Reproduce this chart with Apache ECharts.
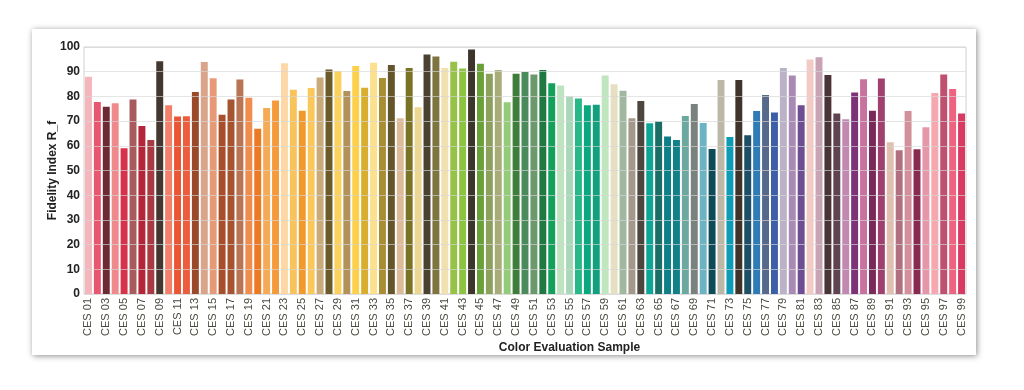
<!DOCTYPE html>
<html>
<head>
<meta charset="utf-8">
<script src="https://cdn.jsdelivr.net/npm/echarts@6/dist/echarts.min.js"></script>
<style>
  html, body { margin: 0; padding: 0; background: #ffffff; }
  #card { position: absolute; left: 32px; top: 29px; width: 944px; height: 326px; background: #fff;
          box-shadow: 1px 1px 6px rgba(0,0,0,0.45); }
  #chart { position: absolute; left: 0; top: 0; width: 1024px; height: 390px; }
</style>
</head>
<body>
<div id="card"></div>
<div id="chart"></div>
<script>
const categories = [];
for (let i = 1; i <= 99; i++) categories.push('CES ' + (i < 10 ? '0' + i : '' + i));

const fidelityValues = [
  88.0, 77.7, 75.8, 77.2, 59.0, 78.7, 68.0, 62.3, 94.2, 76.4,
  71.9, 72.0, 81.8, 93.9, 87.3, 72.6, 78.7, 86.8, 79.5, 66.9,
  75.3, 78.3, 93.4, 82.7, 74.2, 83.4, 87.7, 90.9, 90.3, 82.2,
  92.3, 83.5, 93.6, 87.4, 92.7, 71.2, 91.5, 75.6, 97.0, 96.2,
  91.5, 94.0, 91.3, 99.0, 93.2, 89.2, 90.7, 77.6, 89.2, 89.9,
  88.9, 90.7, 85.3, 84.4, 80.0, 79.1, 76.4, 76.6, 88.5, 84.9,
  82.3, 71.2, 78.1, 69.1, 69.8, 63.8, 62.3, 72.1, 76.9, 69.2,
  58.7, 86.6, 63.6, 86.6, 64.3, 74.1, 80.6, 73.5, 91.5, 88.5,
  76.4, 94.9, 95.8, 88.7, 73.1, 70.7, 81.6, 86.9, 74.2, 87.2,
  61.4, 58.2, 74.1, 58.6, 67.5, 81.4, 88.9, 83.0, 73.1
];

const sampleColors = [
  '#f4b6bb', '#e9566f', '#6b2b34', '#ee8a8c', '#d6334a', '#a95a5d', '#b5253a', '#a83a44', '#44372f', '#f2806a',
  '#ea5634', '#ec5d3d', '#9b4a29', '#d9a48a', '#e89a78', '#a84e2a', '#a6532f', '#b87453', '#f08c4d', '#ec7a25',
  '#f5aa55', '#f49a3a', '#fdd7a6', '#f9c35b', '#ef9a2a', '#fac85a', '#c8ab78', '#6b5a2a', '#fad15a', '#b3925a',
  '#fcd04a', '#d9ad2e', '#fde08e', '#a88d32', '#65552a', '#dcbc98', '#7a7225', '#ecd690', '#4a4130', '#7d7440',
  '#f1e0b0', '#96c247', '#8cc43f', '#3d342c', '#6aa038', '#8ca25c', '#a8ac78', '#92cc7a', '#3f7d3a', '#4a8a5c',
  '#6a9a6c', '#1f7a42', '#13a05a', '#bde3c0', '#a8d8b8', '#28b888', '#0aa87e', '#13a07d', '#c0e6c0', '#e6dfc2',
  '#9fb89e', '#a3998b', '#4d463f', '#0fa595', '#1a6e66', '#0d7f86', '#118188', '#6aa8a0', '#7a827e', '#6ab4c4',
  '#0d4a5a', '#bcb8a8', '#0d9cb8', '#3f342c', '#1d4f66', '#2e7bb5', '#56698a', '#3d5ea8', '#bbb2c8', '#a98ab5',
  '#6e4d93', '#f3cbc5', '#c8a2b5', '#4a3438', '#5e4450', '#c08ab0', '#7d3278', '#c872a0', '#7a2a5a', '#a0406e',
  '#e2beb0', '#b07080', '#d4909a', '#8a2a50', '#e497a8', '#f5a8b0', '#c05070', '#ef6280', '#d83a62'
];

const yAxisName = 'Fidelity Index R_f';
const xAxisName = 'Color Evaluation Sample';

const chart = echarts.init(document.getElementById('chart'), null, { renderer: 'canvas' });
chart.setOption({
  backgroundColor: 'transparent',
  animation: false,
  grid: { left: 84, right: 58, top: 47, bottom: 96, show: true, borderColor: '#d0d0d0', borderWidth: 1, backgroundColor: 'transparent' },
  xAxis: {
    type: 'category',
    data: categories,
    name: xAxisName,
    nameLocation: 'middle',
    nameGap: 48,
    nameMoveOverlap: false,
    nameTextStyle: { fontFamily: 'Liberation Sans, Arial, sans-serif', fontWeight: 'bold', fontSize: 12, color: '#222', padding: [0, 0, 0, 89] },
    axisLine: { show: false },
    axisTick: { show: false },
    axisLabel: { interval: 1, rotate: 90, fontFamily: 'Liberation Sans, Arial, sans-serif', fontSize: 11, color: '#4a4a40', margin: 4 }
  },
  yAxis: {
    type: 'value',
    min: 0, max: 100, interval: 10,
    z: 5,
    name: yAxisName,
    nameLocation: 'middle',
    nameGap: 25,
    nameMoveOverlap: false,
    nameTextStyle: { fontFamily: 'Liberation Sans, Arial, sans-serif', fontWeight: 'bold', fontSize: 12, color: '#222' },
    axisLine: { show: false },
    axisTick: { show: false },
    axisLabel: { fontFamily: 'Liberation Sans, Arial, sans-serif', fontWeight: 'bold', fontSize: 12, color: '#222', margin: 4 },
    splitLine: { lineStyle: { color: 'rgba(215,215,215,0.65)', width: 1 } }
  },
  series: [{
    type: 'bar',
    data: fidelityValues.map((v, i) => ({ value: v, itemStyle: { color: sampleColors[i] } })),
    barCategoryGap: '22%',
    z: 2
  }]
});
</script>
</body>
</html>
